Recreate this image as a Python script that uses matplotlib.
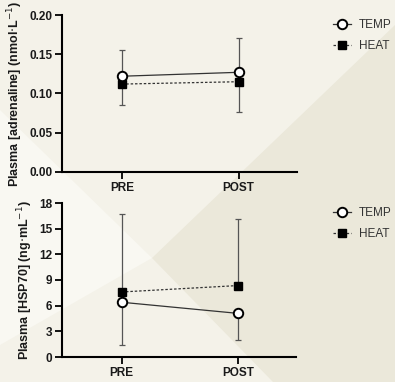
import matplotlib
matplotlib.use("Agg")
import matplotlib.pyplot as plt
from matplotlib.patches import Polygon
import numpy as np

plt.rcParams['font.family'] = ['Liberation Sans', 'DejaVu Sans']

# ---- data ----
timepoints = ["PRE", "POST"]
series_names = ["TEMP", "HEAT"]

adr_temp = [0.122, 0.127]
adr_temp_sd = [0.034, 0.044]
adr_heat = [0.112, 0.115]
adr_heat_sd = [0.027, 0.039]

hsp_temp = [6.4, 5.1]
hsp_temp_sd = [5.0, 3.1]
hsp_heat = [7.6, 8.35]
hsp_heat_sd = [9.1, 7.8]

adr_yticks = [0.00, 0.05, 0.10, 0.15, 0.20]
hsp_yticks = [0, 3, 6, 9, 12, 15, 18]

W, H = 395, 382
fig = plt.figure(figsize=(W / 100, H / 100), dpi=100)
fig.patch.set_facecolor('#f4f2e9')

def px(pts):
    return [(x / W, 1 - y / H) for x, y in pts]

# background decoration
fig.patches.append(Polygon(px([(395, 25), (152, 258), (273, 382), (395, 382)]),
                           closed=True, transform=fig.transFigure,
                           facecolor='#ebe8da', edgecolor='none', zorder=-10))
fig.patches.append(Polygon(px([(0, 110), (152, 258), (0, 345)]),
                           closed=True, transform=fig.transFigure,
                           facecolor='#f9f8f2', edgecolor='none', zorder=-10))

ax1 = fig.add_axes([62 / W, 1 - 172 / H, 235 / W, 157 / H])
ax2 = fig.add_axes([62 / W, 1 - 357 / H, 234 / W, 154 / H])

x = np.arange(len(timepoints))

def draw(ax, temp, temp_sd, heat, heat_sd, yticks, ylabel, fmt):
    temp = np.array(temp); heat = np.array(heat)
    temp_up = temp.mean() >= heat.mean()
    # one-sided error bars: upper series -> up, lower series -> down
    for vals, sd, up in [(temp, temp_sd, temp_up), (heat, heat_sd, not temp_up)]:
        sd = np.array(sd)
        zeros = np.zeros_like(sd)
        yerr = [zeros, sd] if up else [sd, zeros]
        _, caps, _ = ax.errorbar(x, vals, yerr=yerr, fmt='none', ecolor='#555555',
                                 elinewidth=0.9, capsize=2.3, capthick=0.9, zorder=2)
        caps[0 if up else 1].set_visible(False)
    ax.plot(x, temp, '-', color='#333333', lw=0.9, marker='o', ms=6.8,
            mfc='white', mec='black', mew=1.4, zorder=4, label='TEMP')
    ax.plot(x, heat, linestyle=(0, (2, 1.5)), color='#333333', lw=0.9, marker='s', ms=5.8,
            mfc='black', mec='black', zorder=3, label='HEAT')
    ax.set_facecolor('none')
    ax.set_xlim(-0.513, 1.5)
    ax.set_ylim(yticks[0], yticks[-1])
    ax.set_yticks(yticks)
    ax.set_yticklabels([fmt(t) for t in yticks])
    ax.set_xticks(x)
    ax.set_xticklabels(timepoints)
    for s in ['top', 'right']:
        ax.spines[s].set_visible(False)
    for s in ['left', 'bottom']:
        ax.spines[s].set_linewidth(1.5)
        ax.spines[s].set_color('black')
    ax.tick_params(axis='both', direction='out', length=5, width=1.3, colors='black',
                   labelsize=8.5, pad=2)
    for lab in ax.get_xticklabels() + ax.get_yticklabels():
        lab.set_fontweight('bold')
        lab.set_color('#1a1a1a')
    ax.set_ylabel(ylabel, fontsize=9, fontweight='bold', color='#1a1a1a', labelpad=3)

draw(ax1, adr_temp, adr_temp_sd, adr_heat, adr_heat_sd, adr_yticks,
     'Plasma [adrenaline] (nmol$\\cdot$L$^{-1}$)', lambda t: f"{t:.2f}")
draw(ax2, hsp_temp, hsp_temp_sd, hsp_heat, hsp_heat_sd, hsp_yticks,
     'Plasma [HSP70] (ng$\\cdot$mL$^{-1}$)', lambda t: f"{t:d}")

for ax, ytop in [(ax1, 19), (ax2, 207)]:
    leg = ax.legend(loc='upper left', bbox_to_anchor=(333 / W, 1 - ytop / H),
                    bbox_transform=fig.transFigure, frameon=False, fontsize=8.5,
                    handlelength=1.5, handletextpad=0.7, labelspacing=0.8,
                    borderaxespad=0, borderpad=0)
    for t in leg.get_texts():
        t.set_color('#333333')

fig.savefig('out.png', dpi=100, facecolor=fig.get_facecolor())
